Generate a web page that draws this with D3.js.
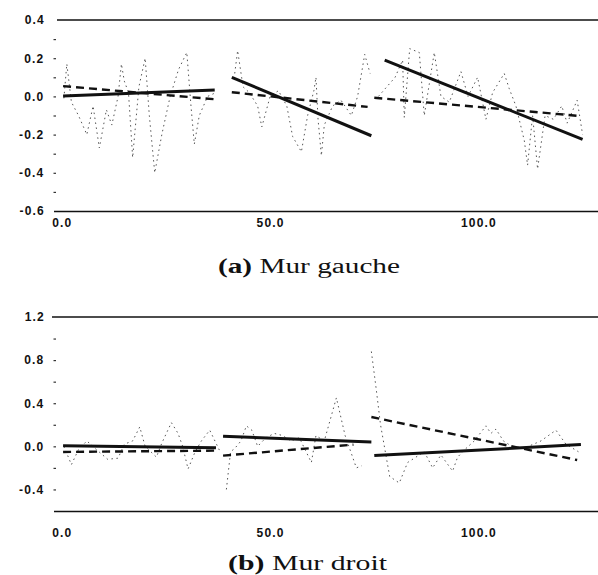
<!DOCTYPE html>
<html>
<head>
<meta charset="utf-8">
<script src="https://cdn.jsdelivr.net/npm/d3@7"></script>
<style>
  body { margin: 0; background: #fff; }
</style>
</head>
<body>
<div id="container"><div id="canvas"></div></div>
<script>
"use strict"

/* Configuration variables: drawing */
let svgWidth = 598;
let svgHeight = 575;

/* Data: raw measurement, one array per run, [x, value] */
let rawLeft1 = [[0.5, -0.01], [1.2, 0.17], [2.3, -0.03], [4, -0.1], [6, -0.2], [7.5, -0.05], [9, -0.27],
    [10.7, -0.07], [12, -0.15], [13.5, 0.0], [14.3, 0.17], [15, 0.08], [16, 0.02], [17, -0.32], [18.5, 0.05],
    [20, 0.2], [21, -0.1], [22.3, -0.4], [24, -0.2], [26, 0.0], [28, 0.14], [30, 0.23], [31, -0.05],
    [31.8, -0.25], [33, -0.1], [35, 0.0], [37, 0.02]];
let rawLeft2 = [[41.5, 0.12], [42.2, 0.24], [43.5, 0.05], [45, 0.02], [47, -0.05], [48, -0.16], [50, 0.0],
    [52, 0.03], [54, -0.05], [55.4, -0.21], [57.5, -0.29], [59, -0.1], [60.5, 0.03], [61, 0.1], [61.5, -0.12],
    [62.3, -0.31], [63, -0.15], [65, -0.05], [67, -0.02], [69.5, -0.1], [71, 0.0], [72.7, 0.22], [74, 0.12]];
let rawLeft3 = [[76, 0.0], [78, 0.05], [80, 0.1], [81.8, 0.19], [82.2, -0.11], [83.5, 0.25], [85.8, 0.23],
    [87, -0.1], [89.4, 0.23], [91, 0.0], [93, -0.03], [95.8, 0.13], [97.5, 0.0], [99.8, 0.1], [101.8, -0.12],
    [103.4, 0.02], [106.2, 0.12], [107.4, 0.04], [109, -0.05], [111, -0.23], [111.8, -0.36], [113, -0.1],
    [114.2, -0.38], [116, -0.1], [118, -0.12], [120, -0.05], [121.3, -0.14], [123.7, -0.02], [125, -0.2]];

let rawRight1 = [[0.5, 0.0], [2.3, -0.17], [4, -0.03], [6, 0.05], [8, -0.02], [11, -0.12], [13.5, -0.11],
    [15, 0.02], [17, 0.05], [18.7, 0.18], [20, 0.0], [22.7, -0.1], [24, 0.03], [26.3, 0.22], [27.9, 0.12],
    [29, 0.0], [30.3, -0.21], [32, -0.05], [33.5, 0.05], [35.5, 0.15], [37, 0.03], [38, -0.05]];
let rawRight2 = [[39.5, -0.4], [40.5, -0.05], [41.5, -0.02], [43, 0.05], [44.3, 0.19], [45.6, 0.15], [47, 0.0],
    [49, 0.08], [51, 0.12], [53, 0.1], [55, 0.05], [57, 0.08], [59.9, -0.15], [61, 0.1], [63, 0.05],
    [65.9, 0.45], [68, 0.1], [70.7, -0.2], [72, -0.18]];
let rawRight3 = [[74.3, 0.88], [75.5, 0.52], [76.5, 0.2], [78.7, -0.28], [81, -0.34], [83, -0.15], [85, -0.1],
    [87, -0.05], [89, -0.2], [91, -0.08], [93.8, -0.23], [95, -0.1], [97, -0.02], [99, 0.05], [101.8, 0.19],
    [103, 0.12], [104.2, 0.16], [106, 0.05], [108, 0.0], [110, -0.02], [112, 0.0], [115, 0.05], [118.6, 0.15],
    [121, 0.02], [124, -0.05]];

/* Fitted lines per run: [[x start, value], [x end, value]] */
let solidLeft = [[[0.3, 0.002], [36.7, 0.034]], [[40.8, 0.10], [74.3, -0.206]], [[77.5, 0.19], [125, -0.225]]];
let dashedLeft = [[[0.3, 0.054], [36.7, -0.015]], [[40.8, 0.022], [73.4, -0.055]], [[75, -0.007], [124.6, -0.103]]];
let solidRight = [[[0.3, 0.005], [37, -0.012]], [[38.7, 0.093], [74.3, 0.041]], [[75, -0.086], [124.6, 0.016]]];
let dashedRight = [[[0.3, -0.052], [37, -0.04]], [[38.7, -0.086], [70, 0.016]], [[74.3, 0.272], [123.7, -0.127]]];

/* Tick values and labels */
let xTicks = [0, 50, 100];
let xLabels = ["0.0", "50.0", "100.0"];
let yTicksLeft = [0.3, 0.2, 0.1, 0.0, -0.1, -0.2, -0.3, -0.4, -0.5];
let yLabelsLeft = ["", "0.2", "", "0.0", "", "-0.2", "", "-0.4", ""];
let yTicksRight = [1.0, 0.8, 0.6, 0.4, 0.2, 0.0, -0.2, -0.4];
let yLabelsRight = ["", "0.8", "", "0.4", "", "0.0", "", "-0.4"];
let yEndsLeft = [0.4, -0.6];
let yEndsRight = [1.2, -0.6];
let yEndLabelsLeft = ["0.4", "-0.6"];
let yEndLabelsRight = ["1.2", ""];

/* Create drawing canvas */
let svg = d3.select("#canvas")
    .append("svg")
    .attr("width", svgWidth)
    .attr("height", svgHeight)
    .style("font-family", "'Liberation Sans', Arial, sans-serif");

/* Same x scale for both walls */
let xScale = d3.scaleLinear()
    .domain([-2, 128.7])
    .range([53.5, 598]);

function styleLabels(sel) {
    sel.attr("fill", "#111")
        .style("font-size", "12px")
        .style("font-weight", "bold")
        .style("letter-spacing", "1.2px");
}

function drawPanel(opt) {
    let g = svg.append("g");

    let yScale = d3.scaleLinear()
        .domain(opt.yDomain)
        .range(opt.yRange);

    let line = d3.line()
        .x(function (d) { return xScale(d[0]); })
        .y(function (d) { return yScale(d[1]); });

    // top frame line
    g.append("line")
        .attr("x1", opt.topStart)
        .attr("x2", svgWidth)
        .attr("y1", yScale(opt.yDomain[1]))
        .attr("y2", yScale(opt.yDomain[1]))
        .attr("stroke", "#111")
        .attr("stroke-width", 1.6);

    // bottom axis (its domain line is the bottom frame)
    let xAxis = d3.axisBottom(xScale)
        .tickValues(xTicks)
        .tickSize(0)
        .tickPadding(opt.xPad)
        .tickFormat(function (d, i) { return xLabels[i]; });

    let xg = g.append("g")
        .attr("transform", "translate(0," + yScale(opt.yDomain[0]) + ")")
        .call(xAxis);
    xg.select(".domain")
        .attr("stroke", "#111")
        .attr("stroke-width", 1.6);
    styleLabels(xg.selectAll("text"));

    // left axis: small marks plus labels, no line
    let yAxis = d3.axisLeft(yScale)
        .tickValues(opt.yTicks)
        .tickSize(2.5)
        .tickPadding(9)
        .tickFormat(function (d, i) { return opt.yLabels[i]; });

    let yg = g.append("g")
        .attr("transform", "translate(56,0)")
        .call(yAxis);
    yg.select(".domain").remove();
    yg.selectAll("line").attr("stroke", "#333").attr("stroke-width", 1.2);
    styleLabels(yg.selectAll("text"));

    // labels at the frame lines
    let ends = g.selectAll(".endLabel")
        .data(opt.yEnds)
        .join("text")
        .attr("x", 45)
        .attr("y", function (d) { return yScale(d); })
        .attr("dy", "0.32em")
        .attr("text-anchor", "end")
        .text(function (d, i) { return opt.yEndLabels[i]; });
    styleLabels(ends);

    // raw measurement, fine dotted
    g.selectAll(".raw")
        .data(opt.raw)
        .join("path")
        .attr("d", line)
        .attr("fill", "none")
        .attr("stroke", "#555")
        .attr("stroke-width", 1)
        .attr("stroke-dasharray", "1.5,3.5");

    // dashed fits
    g.selectAll(".dashed")
        .data(opt.dashed)
        .join("path")
        .attr("d", line)
        .attr("fill", "none")
        .attr("stroke", "#111")
        .attr("stroke-width", 2.4)
        .attr("stroke-dasharray", "8,5");

    // solid fits
    g.selectAll(".solid")
        .data(opt.solid)
        .join("path")
        .attr("d", line)
        .attr("fill", "none")
        .attr("stroke", "#111")
        .attr("stroke-width", 3);

    // caption
    let cap = g.append("text")
        .attr("x", opt.capX)
        .attr("y", opt.capY)
        .attr("textLength", opt.capW)
        .attr("lengthAdjust", "spacingAndGlyphs")
        .attr("fill", "#111")
        .style("font-family", "'Liberation Serif', 'Times New Roman', serif")
        .style("font-size", "20px");
    cap.append("tspan").style("font-weight", "bold").text(opt.capTag);
    cap.append("tspan").text(" " + opt.capText);
}

/* (a) left wall */
drawPanel({
    yDomain: [-0.6, 0.4], yRange: [211, 20], topStart: 57,
    yTicks: yTicksLeft, yLabels: yLabelsLeft,
    yEnds: yEndsLeft, yEndLabels: yEndLabelsLeft,
    xPad: 7,
    raw: [rawLeft1, rawLeft2, rawLeft3],
    solid: solidLeft, dashed: dashedLeft,
    capX: 218, capY: 273, capW: 182, capTag: "(a)", capText: "Mur gauche"
});

/* (b) right wall */
drawPanel({
    yDomain: [-0.6, 1.2], yRange: [511, 317], topStart: 52,
    yTicks: yTicksRight, yLabels: yLabelsRight,
    yEnds: yEndsRight, yEndLabels: yEndLabelsRight,
    xPad: 17,
    raw: [rawRight1, rawRight2, rawRight3],
    solid: solidRight, dashed: dashedRight,
    capX: 228, capY: 570, capW: 159, capTag: "(b)", capText: "Mur droit"
});
</script>
</body>
</html>
